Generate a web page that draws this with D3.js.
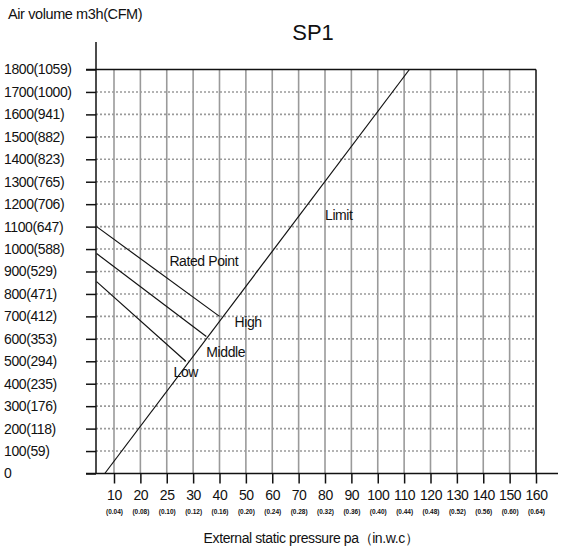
<!DOCTYPE html>
<html>
<head>
<meta charset="utf-8">
<script src="https://cdn.jsdelivr.net/npm/d3@7"></script>
<style>
  html, body { margin: 0; padding: 0; background: #fff; }
  svg { display: block; }
  text { font-family: "Liberation Sans", Arial, sans-serif; fill: #111; }
</style>
</head>
<body>
<svg id="chart" width="566" height="550"></svg>
<script>
// ---------- data ----------
const titleText = "SP1";
const yTitle = "Air volume m3h(CFM)";
const xTitle = "External static pressure pa\uFF08in.w.c\uFF09";

const xTicks = [10, 20, 25, 30, 40, 50, 60, 70, 80, 90, 100, 110, 120, 130, 140, 150, 160];
const xSubLabels = ["(0.04)", "(0.08)", "(0.10)", "(0.12)", "(0.16)", "(0.20)", "(0.24)", "(0.28)",
                    "(0.32)", "(0.36)", "(0.40)", "(0.44)", "(0.48)", "(0.52)", "(0.56)", "(0.60)", "(0.64)"];

const yTicks = [0, 100, 200, 300, 400, 500, 600, 700, 800, 900, 1000, 1100, 1200, 1300, 1400, 1500, 1600, 1700, 1800];
const yLabels = ["0", "100(59)", "200(118)", "300(176)", "400(235)", "500(294)", "600(353)", "700(412)",
                 "800(471)", "900(529)", "1000(588)", "1100(647)", "1200(706)", "1300(765)", "1400(823)",
                 "1500(882)", "1600(941)", "1700(1000)", "1800(1059)"];

// curves: [pressure pa, air volume m3/h]
const highCurve   = [[3.4, 1100], [40, 700]];
const middleCurve = [[3.4, 980],  [35, 610]];
const lowCurve    = [[3.4, 855],  [28.6, 500]];
const limitLine   = [[6.5, 0],    [112, 1800]];

const labelNames  = ["Rated Point", "High", "Middle", "Low", "Limit"];
const labelPa     = [25.5, 45.7, 35, 26.3, 80];
const labelFlow   = [925, 653, 519, 430, 1130];

// ---------- layout ----------
const svg = d3.select("#chart");
const axisX = 96, x0 = 114, xEnd = 536;
const yBottom = 473.5, yTop = 69.5;
const step = (xEnd - x0) / (xTicks.length - 1);

const x = d3.scaleLinear()
  .domain(xTicks)
  .range(xTicks.map((d, i) => x0 + i * step));
const y = d3.scaleLinear().domain([0, 1800]).range([yBottom, yTop]);

// grid
const grid = svg.append("g").attr("stroke", "#9a9a9a").attr("fill", "none");
grid.selectAll(".hg").data(yTicks.filter(d => d > 0 && d < 1800)).join("line")
  .attr("x1", axisX).attr("x2", xEnd)
  .attr("y1", d => y(d)).attr("y2", d => y(d))
  .attr("stroke-width", 1.6)
  .attr("stroke-dasharray", "2,2");
grid.selectAll(".vg").data(xTicks.slice(0, -1)).join("line")
  .attr("x1", d => x(d)).attr("x2", d => x(d))
  .attr("y1", y(1800)).attr("y2", yBottom)
  .attr("stroke-width", 1.6);

// frame
const frame = svg.append("g").attr("stroke", "#111").attr("stroke-width", 1.5);
frame.append("line").attr("x1", 86).attr("x2", xEnd).attr("y1", y(1800)).attr("y2", y(1800));
frame.append("line").attr("x1", xEnd).attr("x2", xEnd).attr("y1", y(1800)).attr("y2", yBottom);

// y axis
const yAxis = svg.append("g")
  .attr("transform", `translate(${axisX},0)`)
  .call(d3.axisLeft(y).tickValues(yTicks).tickSize(10).tickSizeOuter(0)
    .tickFormat((d, i) => yLabels[i]));
yAxis.select(".domain").remove();
yAxis.selectAll(".tick line").attr("stroke", "#111").attr("stroke-width", 1.5);
yAxis.selectAll(".tick text")
  .attr("x", -(axisX - 4)).attr("text-anchor", "start")
  .attr("font-size", 14).attr("font-family", "Liberation Sans, Arial, sans-serif")
  .attr("letter-spacing", "-0.4").attr("fill", "#111");
svg.append("line").attr("x1", axisX).attr("x2", axisX).attr("y1", 42).attr("y2", yBottom)
  .attr("stroke", "#111").attr("stroke-width", 1.5);

// x axis
const xAxis = svg.append("g")
  .attr("transform", `translate(0,${yBottom})`)
  .call(d3.axisBottom(x).tickValues(xTicks).tickSize(10).tickSizeOuter(0).tickFormat(d => d));
xAxis.select(".domain").remove();
xAxis.selectAll(".tick line").attr("stroke", "#111").attr("stroke-width", 1.5);
xAxis.selectAll(".tick text")
  .attr("y", 0).attr("dy", 0).attr("transform", "translate(0,26)")
  .attr("font-size", 14).attr("letter-spacing", "-0.4")
  .attr("font-family", "Liberation Sans, Arial, sans-serif").attr("fill", "#111");
xAxis.selectAll(".tick").append("text")
  .attr("y", 40).attr("text-anchor", "middle")
  .attr("font-size", 6.5).attr("font-weight", "bold").attr("fill", "#333")
  .attr("font-family", "Liberation Sans, Arial, sans-serif")
  .text((d, i) => xSubLabels[i]);
svg.append("line").attr("x1", 86).attr("x2", 558).attr("y1", yBottom).attr("y2", yBottom)
  .attr("stroke", "#111").attr("stroke-width", 1.5);

// curves
const line = d3.line().x(d => x(d[0])).y(d => y(d[1]));
[highCurve, middleCurve, lowCurve, limitLine].forEach(c => {
  svg.append("path").datum(c).attr("d", line)
    .attr("fill", "none").attr("stroke", "#111").attr("stroke-width", 1.2);
});

// curve labels
svg.selectAll(".clabel").data(labelNames).join("text")
  .attr("x", (d, i) => x(labelPa[i])).attr("y", (d, i) => y(labelFlow[i]))
  .attr("font-size", 14).attr("letter-spacing", "-0.4")
  .text(d => d);

// titles
svg.append("text").attr("x", 313).attr("y", 40).attr("text-anchor", "middle")
  .attr("font-size", 22).text(titleText);
svg.append("text").attr("x", 8).attr("y", 19).attr("font-size", 14.5).attr("letter-spacing", "-0.4")
  .text(yTitle);
svg.append("text").attr("x", 311).attr("y", 543).attr("text-anchor", "middle")
  .attr("font-size", 14).attr("letter-spacing", "-0.4").text(xTitle);
</script>
</body>
</html>
